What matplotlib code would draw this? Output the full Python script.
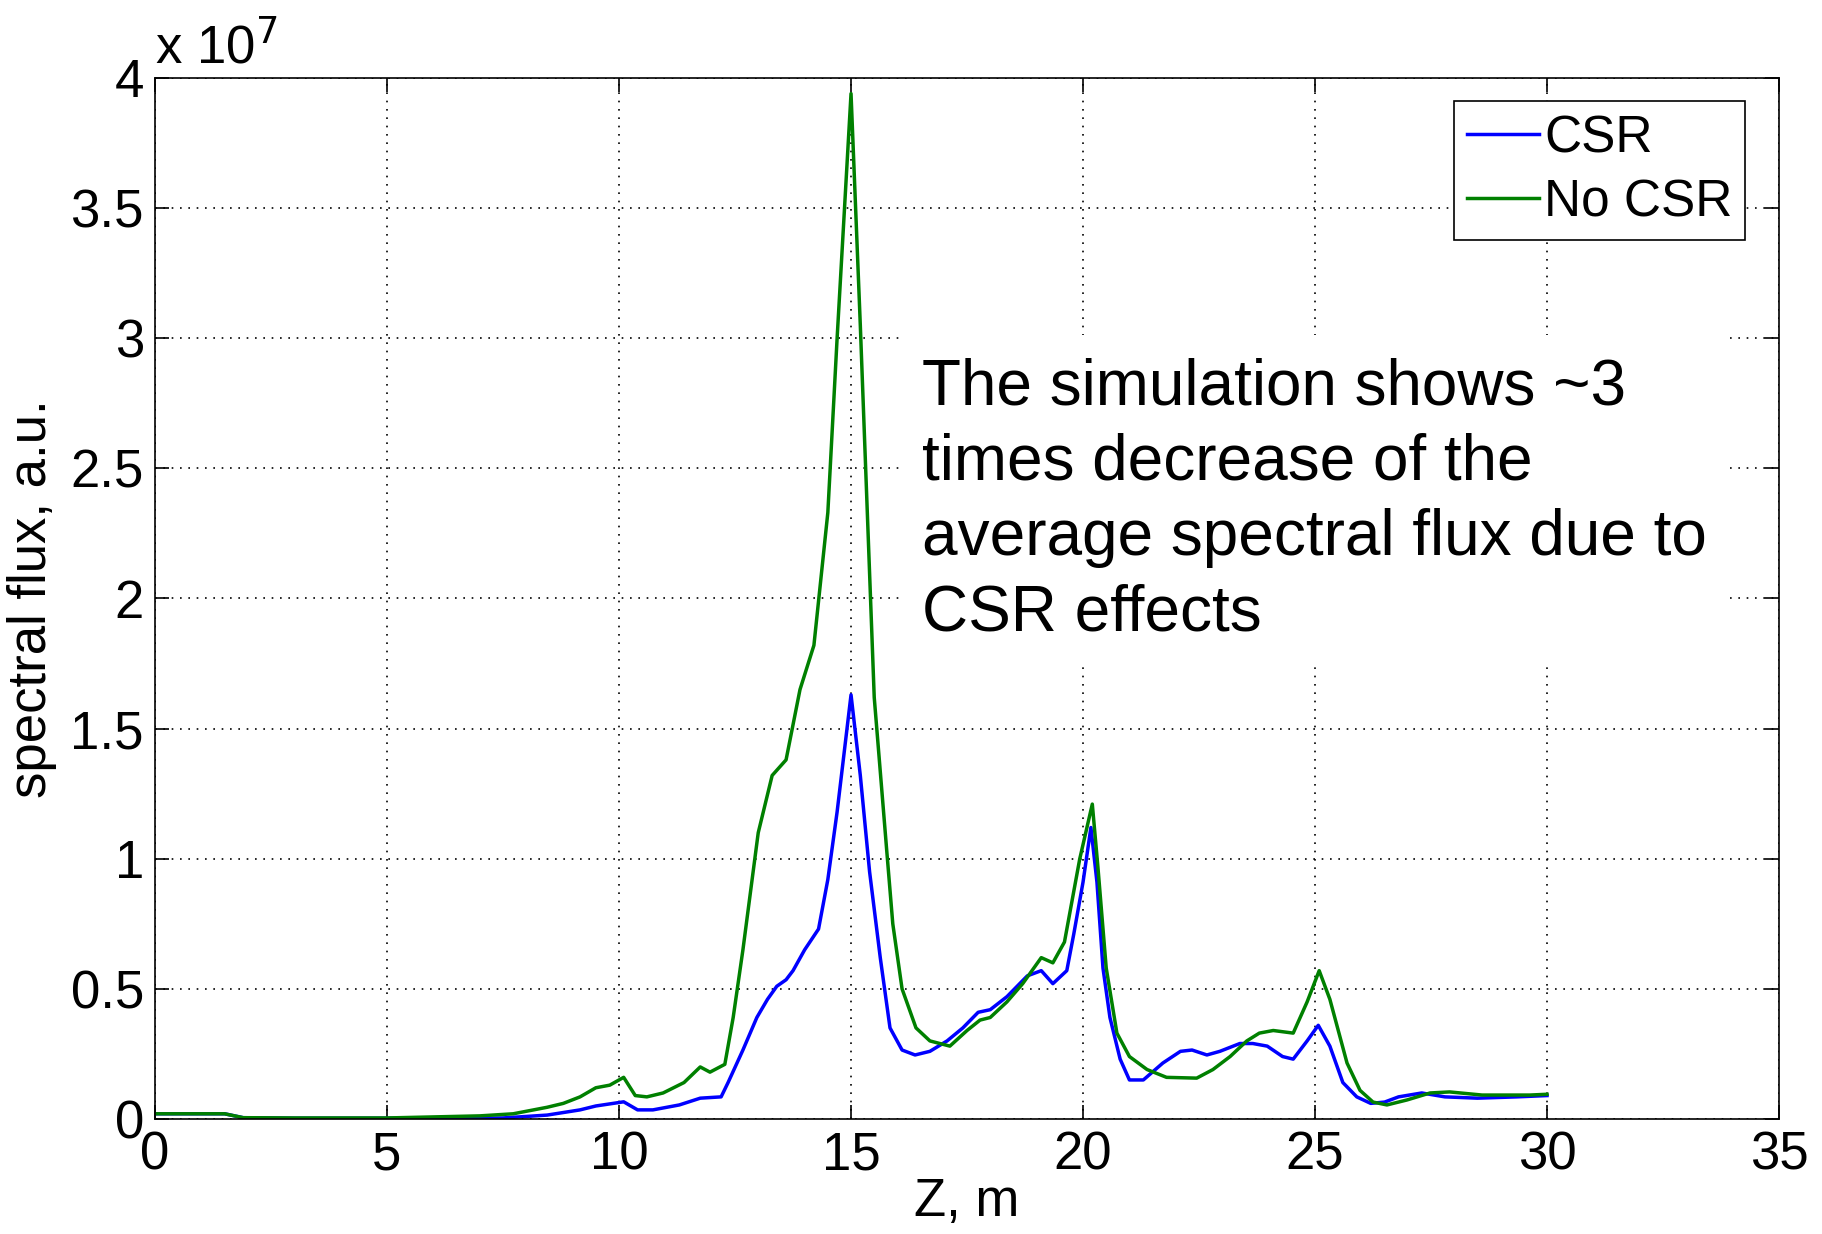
import numpy as np
import matplotlib
matplotlib.use("Agg")
import matplotlib.pyplot as plt
from matplotlib.ticker import FuncFormatter

plt.rcParams['font.family'] = ['Liberation Sans', 'DejaVu Sans']

# data, flux in units of 1e7
z_csr = [0, 1.5, 1.9, 3, 5, 7, 7.5, 8.45, 9.16, 9.5, 9.8, 10.1, 10.4, 10.73, 11.3,
         11.75, 12.2, 12.35, 12.67, 12.97, 13.2, 13.4, 13.6, 13.75, 14.0, 14.3, 14.5,
         14.7, 15.0, 15.2, 15.4, 15.63, 15.84, 16.1, 16.38, 16.7, 17.07, 17.41, 17.74,
         18.0, 18.36, 18.8, 19.1, 19.35, 19.65, 19.8, 20.0, 20.17, 20.3, 20.43, 20.58,
         20.8, 21.0, 21.3, 21.72, 22.1, 22.35, 22.67, 22.95, 23.38, 23.66, 23.97, 24.3,
         24.53, 24.83, 25.07, 25.32, 25.6, 25.9, 26.2, 26.5, 26.8, 27.3, 27.8, 28.5,
         29.35, 30.0]
flux_csr = [0.02, 0.02, 0.005, 0.003, 0.003, 0.003, 0.004, 0.015, 0.035, 0.05, 0.058,
            0.066, 0.035, 0.035, 0.054, 0.08, 0.085, 0.14, 0.265, 0.39, 0.46, 0.51,
            0.535, 0.57, 0.65, 0.73, 0.92, 1.18, 1.63, 1.32, 0.95, 0.62, 0.35, 0.265,
            0.246, 0.26, 0.30, 0.35, 0.41, 0.42, 0.47, 0.55, 0.57, 0.52, 0.57, 0.71,
            0.91, 1.12, 0.91, 0.58, 0.39, 0.23, 0.15, 0.15, 0.215, 0.26, 0.265, 0.246,
            0.26, 0.29, 0.29, 0.28, 0.24, 0.23, 0.30, 0.36, 0.28, 0.14, 0.085, 0.06,
            0.065, 0.085, 0.10, 0.085, 0.08, 0.085, 0.09]

z_nocsr = [0, 1.5, 1.9, 3, 5, 7, 7.72, 8.45, 8.8, 9.16, 9.5, 9.8, 10.1, 10.35, 10.6,
           10.95, 11.4, 11.75, 11.96, 12.28, 12.46, 12.67, 13.0, 13.3, 13.6, 13.9, 14.2,
           14.5, 14.7, 15.0, 15.2, 15.5, 15.77, 15.9, 16.1, 16.4, 16.7, 17.13, 17.5,
           17.78, 18.0, 18.36, 18.7, 19.1, 19.35, 19.6, 19.93, 20.2, 20.32, 20.5, 20.73,
           21.0, 21.38, 21.8, 22.45, 22.8, 23.17, 23.53, 23.8, 24.1, 24.53, 24.83, 25.09,
           25.32, 25.69, 25.97, 26.25, 26.55, 26.98, 27.48, 27.9, 28.6, 29.63, 30.0]
flux_nocsr = [0.02, 0.02, 0.005, 0.004, 0.004, 0.012, 0.02, 0.045, 0.06, 0.085, 0.12,
              0.13, 0.16, 0.09, 0.085, 0.10, 0.14, 0.20, 0.18, 0.21, 0.39, 0.65, 1.1,
              1.32, 1.38, 1.65, 1.82, 2.33, 3.0, 3.94, 3.05, 1.62, 1.03, 0.75, 0.5,
              0.35, 0.30, 0.28, 0.34, 0.38, 0.39, 0.45, 0.52, 0.62, 0.60, 0.68, 1.0,
              1.21, 0.97, 0.58, 0.33, 0.24, 0.19, 0.16, 0.157, 0.19, 0.24, 0.30, 0.33,
              0.34, 0.33, 0.45, 0.57, 0.46, 0.215, 0.11, 0.065, 0.054, 0.073, 0.10,
              0.104, 0.092, 0.092, 0.095]

scale = 1e7
note = "The simulation shows ~3\ntimes decrease of the\naverage spectral flux due to\nCSR effects"

fig = plt.figure(figsize=(18.22, 12.34), dpi=100)
ax = fig.add_axes([0.0851, 0.0932, 0.8913, 0.8436])

ax.plot(z_csr, np.array(flux_csr) * scale, color='#0000ff', lw=2.5, label='CSR')
ax.plot(z_nocsr, np.array(flux_nocsr) * scale, color='#008000', lw=2.5, label='No CSR')

ax.set_xlim(0, 35)
ax.set_ylim(0, 4e7)
ax.set_xticks(np.arange(0, 36, 5))
ax.set_yticks(np.arange(0, 4.01e7, 0.5e7))
ax.yaxis.set_major_formatter(FuncFormatter(lambda v, p: '%g' % (v / scale)))
ax.tick_params(direction='in', length=10, width=1.2, labelsize=38, pad=8,
               top=True, right=True)
ax.grid(True, color='black', linestyle=(0, (1, 4)), lw=1.2)
for s in ax.spines.values():
    s.set_linewidth(1.2)

ax.set_xlabel('Z, m', fontsize=38, labelpad=-2)
ax.set_ylabel('spectral flux, a.u.', fontsize=38, labelpad=10)
ax.text(0.0, 1.003, r'x 10$^7$', transform=ax.transAxes, fontsize=38,
        ha='left', va='bottom')

leg = ax.legend(loc='upper right', bbox_to_anchor=(0.9793, 0.9777), borderaxespad=0,
                fontsize=37, handlelength=1.4, handletextpad=0.1, borderpad=0.25,
                labelspacing=0.3, fancybox=False, framealpha=1, edgecolor='black')
leg.get_frame().set_linewidth(1.2)

ax.text(0.472, 0.594, note, transform=ax.transAxes, fontsize=46,
        ha='left', va='center', linespacing=1.33,
        bbox=dict(boxstyle='square,pad=0.35', facecolor='white', edgecolor='none'),
        zorder=5)

fig.savefig('out.png', dpi=100, facecolor='white')
